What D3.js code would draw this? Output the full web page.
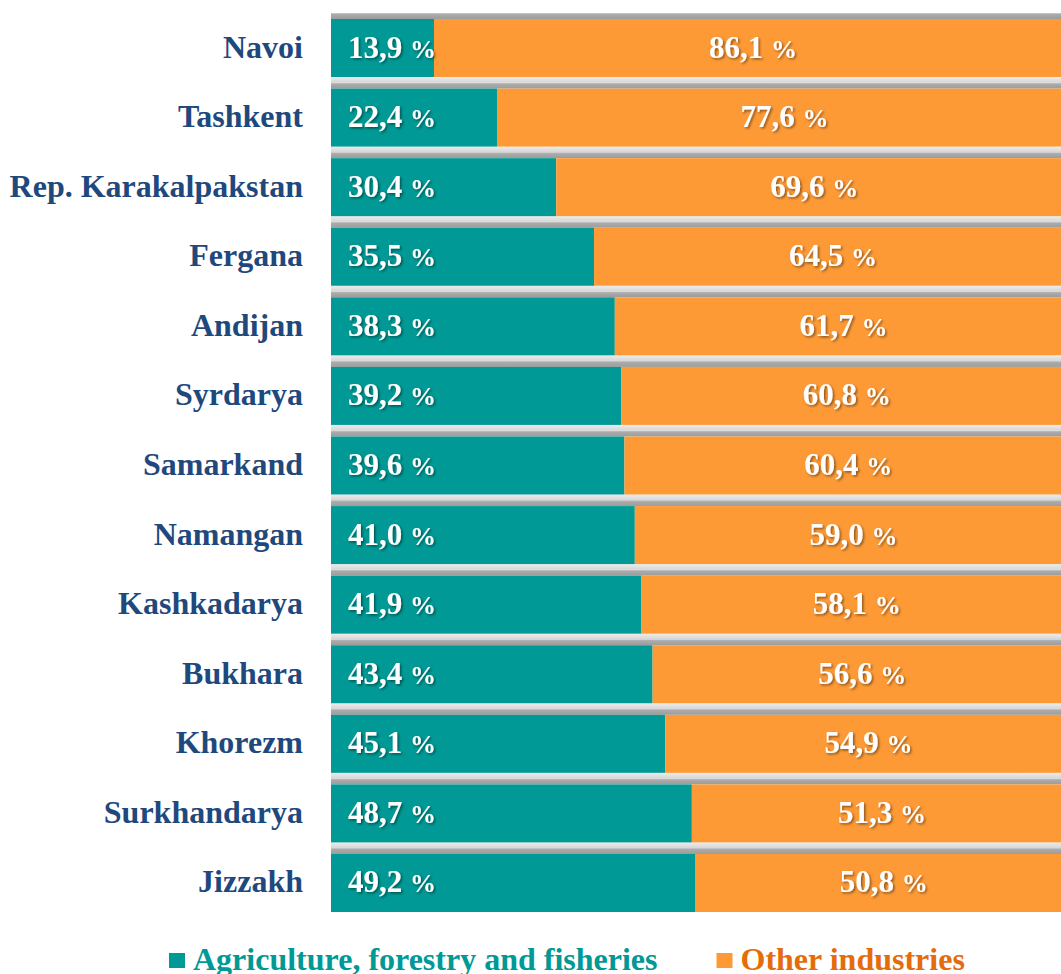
<!DOCTYPE html>
<html>
<head>
<meta charset="utf-8">
<script src="https://cdn.jsdelivr.net/npm/d3@7"></script>
<style>
  html, body { margin: 0; padding: 0; background: #ffffff; overflow: hidden; }
  svg { display: block; font-family: "Liberation Serif", "Times New Roman", serif; font-weight: bold; }
</style>
</head>
<body>
<div class="chart"></div>
<script>
/* regions, top to bottom */
var REGIONS = [
  "Navoi", "Tashkent", "Rep. Karakalpakstan", "Fergana", "Andijan",
  "Syrdarya", "Samarkand", "Namangan", "Kashkadarya", "Bukhara",
  "Khorezm", "Surkhandarya", "Jizzakh"
];

/* share of agriculture, forestry and fisheries, % */
var AGRI = [13.9, 22.4, 30.4, 35.5, 38.3, 39.2, 39.6, 41.0, 41.9, 43.4, 45.1, 48.7, 49.2];

/* share of other industries, % */
var OTHER = [86.1, 77.6, 69.6, 64.5, 61.7, 60.8, 60.4, 59.0, 58.1, 56.6, 54.9, 51.3, 50.8];

var SERIES_NAMES = ["Agriculture, forestry and fisheries", "Other industries"];

var TEAL = "#009995";
var ORANGE = "#FD9A36";
var LABEL_BLUE = "#1F497D";
var LEGEND_COLORS = ["#009995", "#E46C0A"];

var width = 1061;
var height = 974;

var fmt = function fmt(v) {
  return v.toFixed(1).replace(".", ",");
};

var svg = d3.select("div.chart")
  .append("svg")
  .attr("width", width)
  .attr("height", height);

var defs = svg.append("defs");

/* soft dark shadow under the white value labels */
var shadow = defs.append("filter")
  .attr("id", "txtShadow")
  .attr("x", "-10%").attr("y", "-20%")
  .attr("width", "130%").attr("height", "150%");
shadow.append("feDropShadow")
  .attr("dx", 1.5).attr("dy", 1.5)
  .attr("stdDeviation", 1)
  .attr("flood-color", "#000000")
  .attr("flood-opacity", 0.45);

/* grey band that sits above each bar */
var topGrad = defs.append("linearGradient")
  .attr("id", "barTop")
  .attr("x1", 0).attr("y1", 0).attr("x2", 0).attr("y2", 1);
topGrad.append("stop").attr("offset", "0%").attr("stop-color", "#cfcfcf");
topGrad.append("stop").attr("offset", "25%").attr("stop-color", "#ababab");
topGrad.append("stop").attr("offset", "100%").attr("stop-color", "#9c9c9c");

/* lighter reflection just under each bar */
var botGrad = defs.append("linearGradient")
  .attr("id", "barBottom")
  .attr("x1", 0).attr("y1", 0).attr("x2", 0).attr("y2", 1);
botGrad.append("stop").attr("offset", "0%").attr("stop-color", "#ececec");
botGrad.append("stop").attr("offset", "100%").attr("stop-color", "#d6d6d6");

var x = d3.scaleLinear().domain([0, 100]).range([331, 1072]);
var y = d3.scaleBand()
  .domain(REGIONS)
  .range([19, 912])
  .paddingInner(0.1664)
  .paddingOuter(0);

var bh = y.bandwidth();

var rows = svg.selectAll("g.row")
  .data(REGIONS)
  .enter()
  .append("g")
  .attr("class", "row")
  .attr("transform", function computeRowY(d) {
    return "translate(0," + y(d) + ")";
  });

rows.append("rect")
  .attr("x", x(0))
  .attr("y", -6)
  .attr("width", x(100) - x(0))
  .attr("height", 6)
  .attr("fill", "url(#barTop)");

rows.filter(function notLast(d, i) { return i < REGIONS.length - 1; })
  .append("rect")
  .attr("x", x(0))
  .attr("y", bh)
  .attr("width", x(100) - x(0))
  .attr("height", y.step() - bh - 6)
  .attr("fill", "url(#barBottom)");

rows.append("rect")
  .attr("x", x(0))
  .attr("y", 0)
  .attr("width", function agriWidth(d, i) { return x(AGRI[i]) - x(0); })
  .attr("height", bh)
  .attr("fill", TEAL);

rows.append("rect")
  .attr("x", function otherX(d, i) { return x(AGRI[i]); })
  .attr("y", 0)
  .attr("width", function otherWidth(d, i) { return x(100) - x(AGRI[i]); })
  .attr("height", bh)
  .attr("fill", ORANGE);

/* region names */
rows.append("text")
  .attr("x", 303)
  .attr("y", bh / 2 + 9.5)
  .attr("text-anchor", "end")
  .attr("fill", LABEL_BLUE)
  .style("font-size", "32px")
  .text(function name(d) { return d; });

/* value labels: number in a larger size, percent sign smaller */
function addValue(sel, getX, anchor, values) {
  var t = sel.append("text")
    .attr("x", getX)
    .attr("y", bh / 2 + 9.5)
    .attr("text-anchor", anchor)
    .attr("fill", "#ffffff")
    .attr("filter", "url(#txtShadow)")
    .style("font-size", "31px");
  t.append("tspan").text(function num(d, i) { return fmt(values[i]) + " "; });
  t.append("tspan").style("font-size", "26px").text("%");
}

addValue(rows, x(0) + 17, "start", AGRI);
addValue(rows, function centerOther(d, i) {
  return (x(AGRI[i]) + x(100)) / 2;
}, "middle", OTHER);

/* legend */
var legend = svg.append("g").attr("class", "legend");
var lx = 169;
SERIES_NAMES.forEach(function eachSeries(name, i) {
  var g = legend.append("g").attr("transform", "translate(" + lx + ",0)");
  g.append("rect")
    .attr("x", 0).attr("y", 953)
    .attr("width", 16).attr("height", 15)
    .attr("fill", i === 0 ? TEAL : ORANGE);
  var t = g.append("text")
    .attr("x", 24)
    .attr("y", 970)
    .attr("fill", LEGEND_COLORS[i])
    .style("font-size", "32px")
    .text(name);
  lx += 24 + t.node().getComputedTextLength() + 59;
});
</script>
</body>
</html>
